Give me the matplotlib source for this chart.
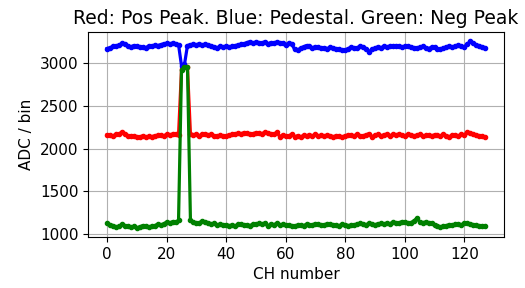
import numpy as np
import matplotlib
matplotlib.use('Agg')
import matplotlib.pyplot as plt

# channel numbers 0..127
channels = np.arange(128)

# positive peak (red)
pos_peak = [2160, 2155, 2150, 2165, 2170, 2195, 2175, 2150, 2145, 2150,
            2140, 2135, 2150, 2130, 2145, 2140, 2150, 2155, 2160, 2150,
            2165, 2160, 2170, 2165, 2160, 2930, 2950, 2950, 2175, 2160,
            2165, 2150, 2170, 2175, 2160, 2165, 2150, 2145, 2155, 2150,
            2150, 2160, 2165, 2170, 2180, 2175, 2185, 2180, 2170, 2175,
            2185, 2180, 2175, 2190, 2180, 2175, 2165, 2190, 2140, 2160,
            2145, 2150, 2165, 2140, 2150, 2135, 2155, 2145, 2160, 2150,
            2165, 2150, 2155, 2145, 2160, 2150, 2140, 2150, 2145, 2135,
            2150, 2160, 2155, 2150, 2165, 2145, 2150, 2160, 2175, 2140,
            2155, 2165, 2150, 2160, 2170, 2150, 2165, 2160, 2170, 2155,
            2150, 2165, 2160, 2150, 2155, 2165, 2145, 2155, 2160, 2150,
            2160, 2155, 2145, 2165, 2150, 2140, 2155, 2160, 2150, 2165,
            2155, 2195, 2185, 2170, 2160, 2150, 2145, 2135]

# pedestal (blue)
pedestal = [3170, 3180, 3195, 3200, 3210, 3230, 3220, 3200, 3190, 3205,
            3195, 3185, 3190, 3180, 3200, 3195, 3210, 3205, 3215, 3225,
            3230, 3220, 3235, 3225, 3215, 2970, 2985, 3205, 3215, 3220,
            3215, 3225, 3210, 3220, 3215, 3200, 3190, 3180, 3195, 3185,
            3200, 3190, 3195, 3205, 3210, 3220, 3225, 3240, 3250, 3235,
            3245, 3240, 3230, 3250, 3225, 3240, 3235, 3245, 3240, 3230,
            3210, 3235, 3225, 3160, 3150, 3175, 3190, 3205, 3195, 3180,
            3190, 3185, 3175, 3180, 3170, 3185, 3175, 3165, 3160, 3155,
            3150, 3170, 3185, 3175, 3180, 3195, 3185, 3170, 3130, 3165,
            3175, 3190, 3180, 3195, 3185, 3200, 3195, 3205, 3200, 3190,
            3195, 3200, 3190, 3180, 3175, 3185, 3195, 3180, 3170, 3185,
            3190, 3165, 3160, 3175, 3190, 3200, 3185, 3200, 3210, 3195,
            3190, 3220, 3255, 3230, 3215, 3200, 3190, 3180]

# negative peak (green)
neg_peak = [1125, 1110, 1100, 1085, 1090, 1115, 1095, 1100, 1080, 1090,
            1075, 1085, 1100, 1090, 1080, 1095, 1100, 1115, 1105, 1120,
            1140, 1130, 1145, 1140, 1160, 2920, 2955, 2960, 1165, 1140,
            1130, 1135, 1150, 1145, 1130, 1120, 1125, 1110, 1115, 1105,
            1110, 1100, 1105, 1095, 1115, 1120, 1105, 1110, 1100, 1115,
            1120, 1125, 1115, 1130, 1095, 1120, 1110, 1125, 1105, 1115,
            1110, 1105, 1100, 1095, 1105, 1110, 1100, 1115, 1105, 1110,
            1120, 1115, 1105, 1110, 1120, 1115, 1110, 1105, 1100, 1115,
            1110, 1100, 1105, 1110, 1115, 1125, 1120, 1110, 1125, 1115,
            1110, 1120, 1125, 1115, 1130, 1120, 1140, 1125, 1130, 1145,
            1140, 1130, 1135, 1150, 1185, 1145, 1135, 1140, 1130, 1125,
            1110, 1095, 1085, 1095, 1100, 1110, 1105, 1115, 1120, 1110,
            1125, 1130, 1120, 1110, 1105, 1100, 1095, 1090]

fig = plt.figure(figsize=(5.25, 2.88), dpi=100)
ax = fig.add_axes([0.168, 0.177, 0.792, 0.712])

ax.plot(channels, pos_peak, 'r', marker='o', markersize=3, linewidth=2.3)
ax.plot(channels, pedestal, 'b', marker='o', markersize=3, linewidth=2.3)
ax.plot(channels, neg_peak, 'g', marker='o', markersize=3, linewidth=2.3)

ax.set_title('Red: Pos Peak. Blue: Pedestal. Green: Neg Peak', fontsize=13.5)
ax.set_xlabel('CH number', fontsize=11)
ax.set_ylabel('ADC / bin', fontsize=11)
ax.tick_params(labelsize=11)
ax.set_xticks([0, 20, 40, 60, 80, 100, 120])
ax.set_yticks([1000, 1500, 2000, 2500, 3000])
ax.grid(True)

fig.savefig('out.png')
